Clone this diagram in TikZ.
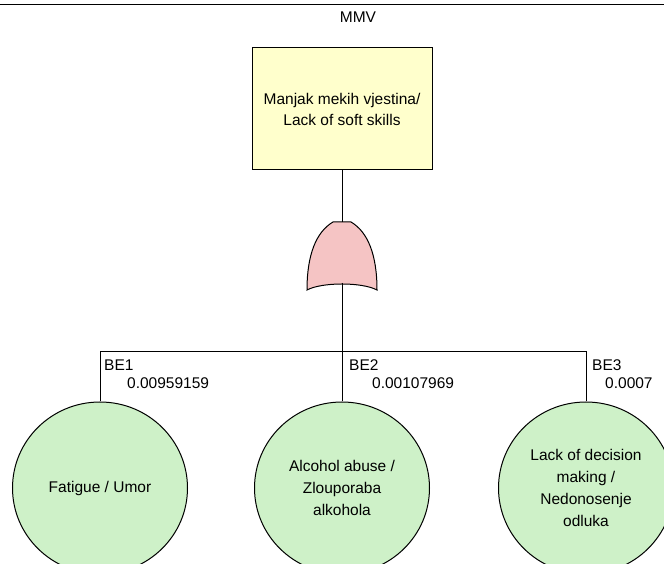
\documentclass[tikz,border=0pt]{standalone}
\usepackage{fontspec}
\setmainfont{Liberation Sans}
\usepackage{tikz}
\usetikzlibrary{positioning}
\usetikzlibrary{shapes.geometric}

\definecolor{boxyellow}{RGB}{255,255,204}
\definecolor{gatepink}{RGB}{245,196,196}
\definecolor{eventgreen}{RGB}{206,241,200}

\tikzset{
  every node/.style = {font = \fontsize{15.5}{21}\selectfont},
  topbox/.style = {draw, fill = boxyellow, minimum width = 180pt, minimum height = 122pt, align = center, line width = 1pt},
  basic/.style = {draw, fill = eventgreen, ellipse, minimum width = 175pt, minimum height = 172pt, align = center, inner sep = 0pt, line width = 1pt, font = \fontsize{15.5}{22.3}\selectfont},
  evlabel/.style = {anchor = west, inner sep = 0pt},
  wire/.style = {line width = 1pt}
}

\begin{document}
\begin{tikzpicture}[x = 1pt, y = 1pt]
\clip (0, 0) rectangle (664, 564);
\fill[white] (0, 0) rectangle (664, 564);
\draw[line width = 1pt] (0, 559) -- (664, 559);

\node[topbox] (top) at (342, 455) {Manjak mekih vjestina/\\Lack of soft skills};
\node[inner sep = 0pt] (mmv) at (358, 547) {MMV};

\coordinate (gtop) at (342, 342);
\coordinate (gbot) at (342, 281);
\draw[wire, fill = gatepink] (333, 342) -- (351, 342) .. controls (368, 332) and (377, 309) .. (377, 274) .. controls (362, 282) and (322, 282) .. (307, 274) .. controls (307, 309) and (316, 332) .. (333, 342) -- cycle;
\draw[wire] (top.south) -- (gtop);

\node[basic] (e1) at (100, 76) {Fatigue / Umor};
\node[basic] (e2) at (342, 76) {Alcohol abuse /\\Zlouporaba\\alkohola};
\node[basic] (e3) at (586, 76) {Lack of decision\\making /\\Nedonosenje\\odluka};

\coordinate (bus) at (342, 212);
\draw[wire] (gbot) -- (e2.north);
\draw[wire] (bus) -| (e1.north);
\draw[wire] (bus) -| (e3.north);

\node[evlabel] (be1) at (104, 199) {BE1};
\node[evlabel] (p1) at (127, 181) {0.00959159};
\node[evlabel] (be2) at (349, 199) {BE2};
\node[evlabel] (p2) at (372, 181) {0.00107969};
\node[evlabel] (be3) at (592, 199) {BE3};
\node[evlabel] (p3) at (605, 181) {0.0007};
\end{tikzpicture}
\end{document}
